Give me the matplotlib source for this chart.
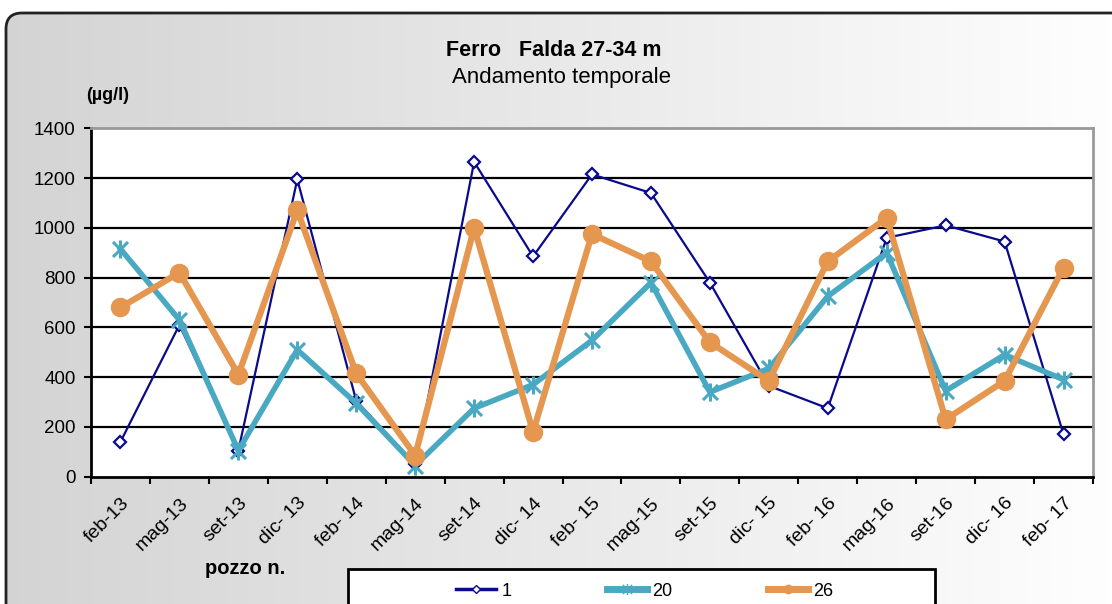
import numpy as np
import matplotlib
matplotlib.use("Agg")
import matplotlib.pyplot as plt
from matplotlib.patches import FancyBboxPatch, Rectangle
from matplotlib.lines import Line2D
from matplotlib.path import Path

plt.rcParams['font.family'] = ['Liberation Sans', 'DejaVu Sans']

months = ["feb-13", "mag-13", "set-13", "dic- 13", "feb- 14", "mag-14", "set-14", "dic- 14",
          "feb- 15", "mag-15", "set-15", "dic- 15", "feb- 16", "mag-16", "set-16", "dic- 16", "feb- 17"]
pozzo_1 = [140, 610, 105, 1195, 305, 50, 1265, 885, 1215, 1140, 780, 365, 275, 960, 1010, 945, 170]
pozzo_20 = [915, 630, 105, 510, 295, 45, 275, 370, 548, 780, 340, 435, 725, 900, 345, 490, 390]
pozzo_26 = [680, 820, 410, 1070, 415, 85, 1000, 180, 975, 865, 540, 385, 865, 1040, 230, 385, 840]

NAVY = '#0a0a8c'
CYAN = '#4aa9c2'
ORANGE = '#e5964f'

# excel-like star: an X plus a vertical bar
star = Path([(-1, -1), (1, 1), (-1, 1), (1, -1), (0, -1.2), (0, 1.2)],
            [Path.MOVETO, Path.LINETO, Path.MOVETO, Path.LINETO, Path.MOVETO, Path.LINETO])

W, H = 1112, 604
fig = plt.figure(figsize=(W / 100, H / 100), dpi=100)

# background with grey->white gradient inside a rounded frame
bg = fig.add_axes([0, 0, 1, 1], zorder=-10)
bg.set_xlim(0, W)
bg.set_ylim(H, 0)
bg.axis('off')
grad = np.linspace(0.83, 1.0, 256).reshape(1, -1)
img = bg.imshow(np.dstack([grad, grad, grad]), extent=[6, W + 20, H + 20, 13], aspect='auto')
frame = FancyBboxPatch((6, 13), W + 30, H + 30, boxstyle="round,pad=0,rounding_size=16",
                       fc='none', ec='#222222', lw=2.0)
bg.add_patch(frame)
img.set_clip_path(frame)

ax = fig.add_axes([91 / W, 1 - 476.7 / H, 1002 / W, 348.4 / H])
ax.set_facecolor('white')
x = np.arange(len(months))

ax.plot(x, pozzo_1, color=NAVY, lw=1.6, marker='D', ms=6, mfc='white', mec=NAVY,
        mew=1.6, zorder=3)
ax.plot(x, pozzo_20, color=CYAN, lw=4, marker=star, ms=13, mec=CYAN, mew=2.2, zorder=4)
ax.plot(x, pozzo_26, color=ORANGE, lw=4.5, marker='o', ms=13, mfc=ORANGE, mec=ORANGE,
        zorder=5)

ax.set_xlim(-0.5, len(months) - 0.5)
ax.set_ylim(0, 1400)
ax.set_yticks(range(0, 1401, 200))
ax.set_yticklabels([str(v) for v in range(0, 1401, 200)], fontsize=13.5)
for v in range(200, 1400, 200):
    ax.axhline(v, color='black', lw=1.6, zorder=1)

ax.set_xticks(x)
ax.set_xticklabels(months, rotation=45, ha='right', rotation_mode='anchor', fontsize=14)
ax.set_xticks(np.arange(-0.5, len(months)), minor=True)
ax.tick_params(axis='x', which='major', length=0, pad=13)
ax.tick_params(axis='x', which='minor', length=5, width=1.5, direction='out')
ax.tick_params(axis='y', length=5, width=1.5, direction='out', pad=6)

for s in ('left', 'bottom'):
    ax.spines[s].set_color('black')
    ax.spines[s].set_linewidth(2)
for s in ('top', 'right'):
    ax.spines[s].set_color('#999999')
    ax.spines[s].set_linewidth(2)

fig.text(554 / W, 1 - 50 / H, "Ferro   Falda 27-34 m", ha='center', va='center',
         fontsize=15.5, fontweight='bold')
fig.text(562 / W, 1 - 78 / H, "Andamento temporale", ha='center', va='center', fontsize=16)
fig.text(108 / W, 1 - 95 / H, "(µg/l)", ha='center', va='center', fontsize=13, fontweight='bold')
fig.text(245 / W, 1 - 568 / H, "pozzo n.", ha='center', va='center', fontsize=14.5,
         fontweight='bold')

# legend box running off the bottom edge
bg.add_patch(Rectangle((348, 569), 587, 60, fc='white', ec='black', lw=2, zorder=5))
handles = [
    Line2D([], [], color=NAVY, lw=2.5, marker='D', ms=4, mfc='white', mec=NAVY),
    Line2D([], [], color=CYAN, lw=5, marker=star, ms=8, mec=CYAN),
    Line2D([], [], color=ORANGE, lw=5, marker='o', ms=6, mec=ORANGE),
]
fig.legend(handles, ["1", "20", "26"], loc='center', bbox_to_anchor=(645 / W, 1 - 591 / H),
           ncol=3, frameon=False, fontsize=13, handlelength=2.2, columnspacing=5.3,
           handletextpad=0.3)

fig.savefig("out.png", dpi=100)
